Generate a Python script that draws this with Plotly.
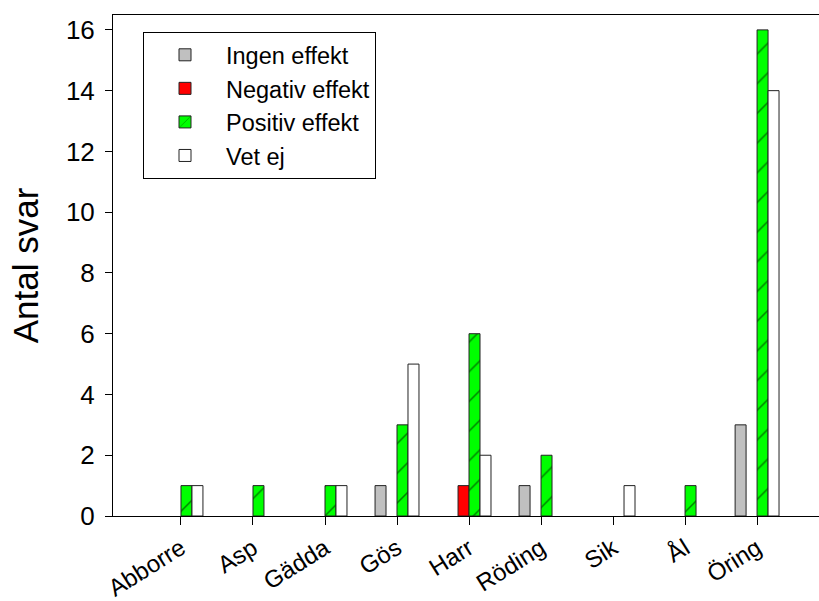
import plotly.graph_objects as go

categories = ["Abborre", "Asp", "Gädda", "Gös", "Harr", "Röding", "Sik", "Ål", "Öring"]
ingen_effekt = [0, 0, 0, 1, 0, 1, 0, 0, 3]
negativ_effekt = [0, 0, 0, 0, 1, 0, 0, 0, 0]
positiv_effekt = [1, 1, 1, 3, 6, 2, 0, 1, 16]
vet_ej = [1, 0, 1, 5, 2, 0, 1, 0, 14]

font_family = "Arial, 'Liberation Sans', sans-serif"
line = dict(color="#222222", width=1)


def nz(vals):
    # zero-height bars are not drawn in the reference
    return [v if v != 0 else None for v in vals]


fig = go.Figure()
fig.add_trace(go.Bar(name="Ingen effekt", x=categories, y=nz(ingen_effekt),
                     marker=dict(color="#c0c0c0", line=line)))
fig.add_trace(go.Bar(name="Negativ effekt", x=categories, y=nz(negativ_effekt),
                     marker=dict(color="#ff0000", line=line)))
fig.add_trace(go.Bar(name="Positiv effekt", x=categories, y=nz(positiv_effekt),
                     marker=dict(color="#00ff00", line=line,
                                 pattern=dict(shape="/", fgcolor="#000000", bgcolor="#00ff00",
                                              size=21, solidity=0.07, fillmode="overlay"))))
fig.add_trace(go.Bar(name="Vet ej", x=categories, y=nz(vet_ej),
                     marker=dict(color="#ffffff", line=line)))

fig.update_layout(
    width=819, height=601,
    margin=dict(l=113, r=0, t=15, b=85),
    plot_bgcolor="white", paper_bgcolor="white",
    barmode="group", bargap=0.39, bargroupgap=0,
    font=dict(family=font_family, color="black", size=24),
    showlegend=True,
    legend=dict(x=0.0425, y=0.966, xanchor="left", yanchor="top",
                bordercolor="black", borderwidth=1, bgcolor="white",
                font=dict(size=23.5, family=font_family), traceorder="normal",
                itemwidth=72),
    xaxis=dict(range=[-0.944, 8.86], showline=True, linecolor="black", linewidth=1,
               mirror=True, ticks="outside", ticklen=8, tickcolor="black",
               tickangle=-32, tickfont=dict(size=24), showgrid=False,
               ticklabelstandoff=0, automargin=False),
    yaxis=dict(range=[0, 16.49], showline=True, linecolor="black", linewidth=1,
               ticks="outside", ticklen=7, tickcolor="black", dtick=2,
               tickfont=dict(size=26), showgrid=False, zeroline=False,
               ticklabelstandoff=5, automargin=False,
               title=dict(text="Antal svar", font=dict(size=35), standoff=16)),
)

fig.write_html("out.html", config={"displayModeBar": False},
               post_script="document.body.style.margin='0';document.body.style.overflow='hidden';")
